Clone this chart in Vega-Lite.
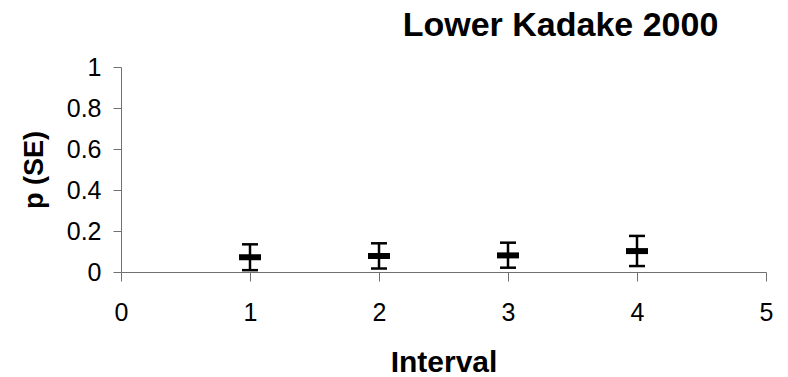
{
  "$schema": "https://vega.github.io/schema/vega-lite/v6.json",
  "width": 645,
  "height": 205,
  "autosize": {"type": "none"},
  "padding": {"left": 121, "top": 67, "right": 22, "bottom": 105},
  "background": "white",
  "config": {
    "view": {"stroke": null},
    "font": "Liberation Sans",
    "axis": {"grid": false, "domainColor": "#707070", "tickColor": "#707070", "labelColor": "black", "titleColor": "black", "labelFont": "Liberation Sans", "titleFont": "Liberation Sans"}
  },
  "title": {
    "text": "Lower Kadake 2000",
    "fontSize": 34,
    "fontWeight": "bold",
    "font": "Liberation Sans",
    "color": "black",
    "anchor": "middle",
    "dx": 117,
    "offset": 12
  },
  "data": {
    "values": [
      {"interval": 1, "p": 0.072, "lo": 0.009, "hi": 0.135},
      {"interval": 2, "p": 0.078, "lo": 0.017, "hi": 0.14},
      {"interval": 3, "p": 0.081, "lo": 0.021, "hi": 0.143},
      {"interval": 4, "p": 0.102, "lo": 0.029, "hi": 0.176}
    ]
  },
  "encoding": {
    "x": {
      "field": "interval",
      "type": "quantitative",
      "scale": {"domain": [0, 5], "nice": false},
      "axis": {"title": "Interval", "values": [0, 1, 2, 3, 4, 5], "format": "d", "tickSize": 9, "labelPadding": 19, "labelFontSize": 25, "titleFontSize": 30, "titleFontWeight": "bold", "titlePadding": 22, "labelFlush": false}
    }
  },
  "layer": [
    {
      "mark": {"type": "rule", "color": "black", "strokeWidth": 2.5},
      "encoding": {
        "y": {"field": "lo", "type": "quantitative", "scale": {"domain": [0, 1], "nice": false},
          "axis": {"title": "p (SE)", "values": [0, 0.2, 0.4, 0.6, 0.8, 1], "format": "~g", "tickSize": 8, "labelPadding": 12, "labelFontSize": 25, "titleFontSize": 27, "titleFontWeight": "bold", "titlePadding": 18, "labelFlush": false}},
        "y2": {"field": "hi"}
      }
    },
    {
      "mark": {"type": "tick", "orient": "horizontal", "color": "black", "size": 16, "thickness": 2.5, "opacity": 1},
      "encoding": {"y": {"field": "lo", "type": "quantitative"}}
    },
    {
      "mark": {"type": "tick", "orient": "horizontal", "color": "black", "size": 16, "thickness": 2.5, "opacity": 1},
      "encoding": {"y": {"field": "hi", "type": "quantitative"}}
    },
    {
      "mark": {"type": "tick", "orient": "horizontal", "color": "black", "size": 22, "thickness": 6, "opacity": 1},
      "encoding": {"y": {"field": "p", "type": "quantitative"}}
    }
  ]
}
